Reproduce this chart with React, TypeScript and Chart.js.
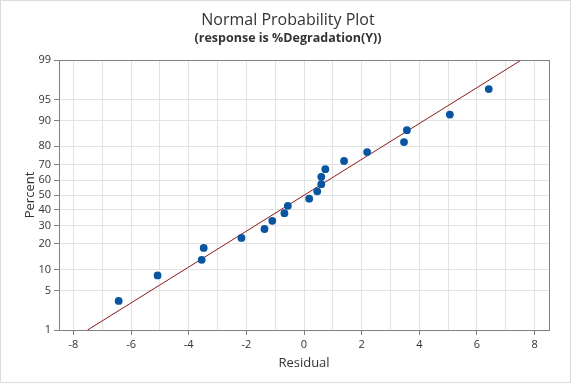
import React, { useEffect, useRef } from "react";
import { Chart, registerables } from "chart.js";

Chart.register(...registerables);

// Residuals (x), in ascending order
const residuals: number[] = [
  -6.43, -5.08, -3.55, -3.48, -2.17, -1.37, -1.1, -0.68, -0.56, 0.18,
  0.46, 0.6, 0.6, 0.74, 1.39, 2.19, 3.47, 3.57, 5.06, 6.41,
];
// Plotted percent of each point
const percents: number[] = [
  3.4, 8.3, 13.2, 18.1, 23.0, 27.9, 32.8, 37.7, 42.6, 47.5,
  52.5, 57.4, 62.3, 67.2, 72.1, 77.0, 81.9, 86.8, 91.7, 96.6,
];
// Fitted line end points: residual at 1% and 99%
const fitPercents: number[] = [1, 99];
const fitResiduals: number[] = [-7.51, 7.54];

// Axis tick labels
const percentTicks: number[] = [1, 5, 10, 20, 30, 40, 50, 60, 70, 80, 90, 95, 99];
const residualTicks: number[] = [-8, -7, -6, -5, -4, -3, -2, -1, 0, 1, 2, 3, 4, 5, 6, 7, 8];

const titleText = "Normal Probability Plot";
const subtitleText = "(response is %Degradation(Y))";
const xTitle = "Residual";
const yTitle = "Percent";

// inverse standard normal CDF (probability-scale transform)
function normInv(p: number): number {
  const a = [-3.969683028665376e1, 2.209460984245205e2, -2.759285104469687e2, 1.38357751867269e2, -3.066479806614716e1, 2.506628277459239];
  const b = [-5.447609879822406e1, 1.615858368580409e2, -1.556989798598866e2, 6.680131188771972e1, -1.328068155288572e1];
  const c = [-7.784894002430293e-3, -3.223964580411365e-1, -2.400758277161838, -2.549732539343734, 4.374664141464968, 2.938163982698783];
  const d = [7.784695709041462e-3, 3.224671290700398e-1, 2.445134137142996, 3.754408661907416];
  const pl = 0.02425;
  let q: number, r: number;
  if (p < pl) {
    q = Math.sqrt(-2 * Math.log(p));
    return (((((c[0] * q + c[1]) * q + c[2]) * q + c[3]) * q + c[4]) * q + c[5]) / ((((d[0] * q + d[1]) * q + d[2]) * q + d[3]) * q + 1);
  }
  if (p <= 1 - pl) {
    q = p - 0.5;
    r = q * q;
    return ((((((a[0] * r + a[1]) * r + a[2]) * r + a[3]) * r + a[4]) * r + a[5]) * q) / (((((b[0] * r + b[1]) * r + b[2]) * r + b[3]) * r + b[4]) * r + 1);
  }
  q = Math.sqrt(-2 * Math.log(1 - p));
  return -(((((c[0] * q + c[1]) * q + c[2]) * q + c[3]) * q + c[4]) * q + c[5]) / ((((d[0] * q + d[1]) * q + d[2]) * q + d[3]) * q + 1);
}
const z = (pct: number) => normInv(pct / 100);

const FONT = "'Open Sans', 'Noto Sans', sans-serif";
const TEXT = "#333333";
const AXIS = "#808080";
const GRID = "#e3e3e3";

export default function App() {
  const ref = useRef<HTMLCanvasElement>(null);

  useEffect(() => {
    if (!ref.current) return;
    const pts = residuals.map((x, i) => ({ x, y: z(percents[i]) }));
    const fit = fitResiduals.map((x, i) => ({ x, y: z(fitPercents[i]) }));
    const zTicks = percentTicks.map((p) => z(p));

    const framePlugin = {
      id: "frame",
      beforeDraw(chart: any) {
        const { ctx, width, height } = chart;
        ctx.save();
        ctx.fillStyle = "#ffffff";
        ctx.fillRect(0, 0, width, height);
        ctx.strokeStyle = "#dcdcdc";
        ctx.lineWidth = 1;
        ctx.strokeRect(0.5, 0.5, 570, 382);
        ctx.restore();
      },
      afterDraw(chart: any) {
        const { ctx, chartArea: a } = chart;
        ctx.save();
        ctx.strokeStyle = AXIS;
        ctx.lineWidth = 1;
        ctx.strokeRect(Math.round(a.left) + 0.5, Math.round(a.top) + 0.5, Math.round(a.right - a.left), Math.round(a.bottom - a.top));
        ctx.fillStyle = TEXT;
        ctx.textAlign = "center";
        ctx.textBaseline = "middle";
        ctx.font = `16px ${FONT}`;
        ctx.fillText(titleText, 288, 20);
        ctx.font = `bold 12.5px ${FONT}`;
        ctx.fillText(subtitleText, 288, 38);
        ctx.restore();
      },
    };

    const chart = new Chart(ref.current, {
      type: "scatter",
      data: {
        datasets: [
          {
            data: pts,
            backgroundColor: "#0a55a0",
            borderColor: "#0a55a0",
            pointRadius: 3.9,
            pointHoverRadius: 3.9,
            borderWidth: 0,
            order: 1,
          },
          {
            data: fit,
            showLine: true,
            borderColor: "#8b1a1a",
            borderWidth: 1,
            pointRadius: 0,
            order: 2,
          },
        ],
      },
      options: {
        animation: false,
        responsive: false,
        events: [],
        layout: { padding: { top: 60, right: 27, left: 0, bottom: 0 } },
        plugins: { legend: { display: false }, tooltip: { enabled: false }, title: { display: false } },
        scales: {
          x: {
            type: "linear",
            min: -8.5,
            max: 8.5,
            afterBuildTicks: (s: any) => {
              s.ticks = residualTicks.map((v) => ({ value: v }));
            },
            afterFit: (s: any) => {
              s.height = 54;
            },
            border: { display: true, color: AXIS },
            grid: {
              color: GRID,
              tickLength: 5,
              tickColor: (c: any) => (c.tick && c.tick.value % 2 === 0 ? AXIS : "rgba(0,0,0,0)"),
            },
            ticks: {
              color: TEXT,
              font: { family: FONT, size: 11 },
              padding: 3,
              maxRotation: 0,
              autoSkip: false,
              callback: (v: any) => (Number(v) % 2 === 0 ? String(v) : ""),
            },
            title: {
              display: true,
              text: xTitle,
              color: TEXT,
              font: { family: FONT, size: 13 },
              padding: { top: 0, bottom: 13 },
            },
          },
          y: {
            type: "linear",
            min: z(1),
            max: z(99),
            afterBuildTicks: (s: any) => {
              s.ticks = zTicks.map((v) => ({ value: v }));
            },
            afterFit: (s: any) => {
              s.width = 59;
            },
            border: { display: true, color: AXIS },
            grid: { color: GRID, tickLength: 5, tickColor: AXIS },
            ticks: {
              color: TEXT,
              font: { family: FONT, size: 11 },
              padding: 3,
              autoSkip: false,
              callback: (_v: any, i: number) => String(percentTicks[i]),
            },
            title: {
              display: true,
              text: yTitle,
              color: TEXT,
              font: { family: FONT, size: 13 },
              padding: { top: 22, bottom: 0 },
            },
          },
        },
      },
      plugins: [framePlugin],
    });
    return () => chart.destroy();
  }, []);

  return (
    <div style={{ position: "fixed", left: 0, top: 0, width: 576, height: 384, background: "#fff" }}>
      <canvas ref={ref} width={576} height={384} style={{ width: 576, height: 384, display: "block" }} />
    </div>
  );
}
